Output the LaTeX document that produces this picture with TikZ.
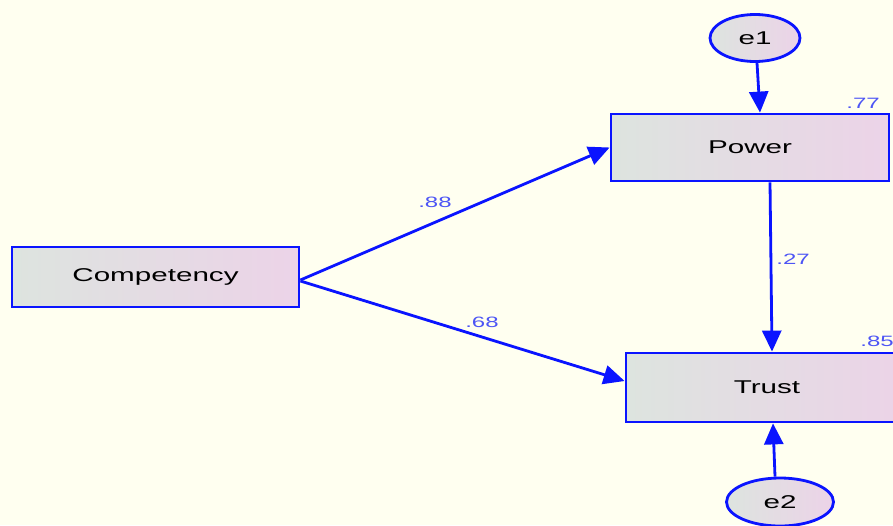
\documentclass[tikz,border=0pt]{standalone}
\usepackage{fontspec}
\usetikzlibrary{arrows.meta,calc,shapes.geometric}
\newfontfamily\diagfont[FakeStretch=1.6]{Liberation Sans}
\definecolor{bgivory}{HTML}{FFFFF0}
\definecolor{fillleft}{HTML}{DDE4DF}
\definecolor{fillright}{HTML}{ECD3E8}
\definecolor{pathblue}{HTML}{0A14FF}
\definecolor{coefblue}{HTML}{4D55F5}
\begin{document}
\begin{tikzpicture}[x=1pt,y=-1pt,
  varbox/.style={draw=pathblue, line width=2.8pt, left color=fillleft, right color=fillright,
    rectangle, inner sep=0pt, font=\diagfont\fontsize{18.5}{21}\selectfont},
  errnode/.style={draw=pathblue, line width=2.8pt, left color=fillleft, right color=fillright,
    ellipse, inner sep=0pt, font=\diagfont\fontsize{18.5}{21}\selectfont},
  sempath/.style={draw=pathblue, line width=2.8pt, -{Triangle[length=21pt,width=19pt]}},
  coef/.style={text=coefblue, font=\diagfont\fontsize{15}{17}\selectfont, inner sep=0pt}]
  \fill[bgivory] (0,0) rectangle (893,525);
  \useasboundingbox (0,0) rectangle (893,525);
  \clip (0,0) rectangle (893,525);

  % observed variables
  \node[varbox, minimum width=287pt, minimum height=60pt] (comp) at (155.5,277) {Competency};
  \node[varbox, minimum width=278pt, minimum height=67pt] (power) at (750,147.5) {Power};
  \node[varbox, minimum width=282pt, minimum height=69pt] (trust) at (767,387.5) {Trust};

  % error terms
  \node[errnode, minimum width=90pt, minimum height=47pt] (e1) at (755,38) {e1};
  \node[errnode, minimum width=107pt, minimum height=48pt] (e2) at (780,502) {e2};

  % structural paths
  \draw[sempath] ($(comp.east)+(0,3)$) -- (power.west);
  \draw[sempath] ($(comp.east)+(0,4)$) -- ($(trust.west)+(0,-6.5)$);
  \draw[sempath] ($(power.south)+(20,0)$) -- ($(trust.north)+(5,0)$);
  \draw[sempath] ($(e1.south)+(2,0)$) -- ($(power.north)+(10,0)$);
  \draw[sempath] ($(e2.north)+(-5,0)$) -- ($(trust.south)+(6,0)$);

  % coefficients
  \node[coef] (c88) at (435,202) {.88};
  \node[coef] (c68) at (482,322) {.68};
  \node[coef] (c27) at (793,259) {.27};
  \node[coef] (r77) at (863,103) {.77};
  \node[coef] (r85) at (877,341) {.85};
\end{tikzpicture}
\end{document}
